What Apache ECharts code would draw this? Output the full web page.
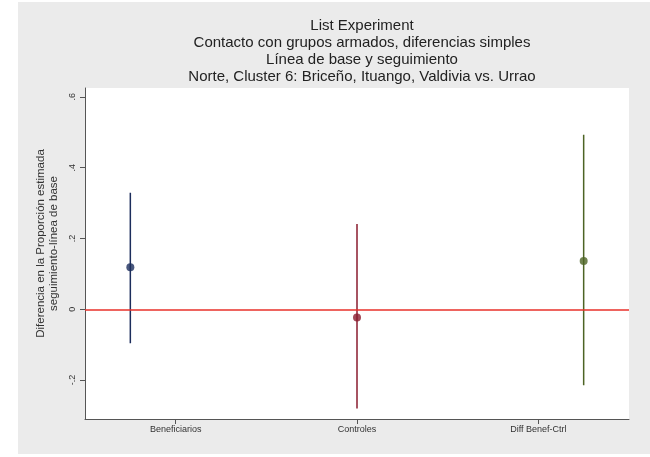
<!DOCTYPE html>
<html>
<head>
<meta charset="utf-8">
<script src="https://cdn.jsdelivr.net/npm/echarts@6/dist/echarts.min.js"></script>
<style>
  html, body { margin: 0; padding: 0; background: #fff; }
  #chart-container { width: 650px; height: 457px; }
</style>
</head>
<body>
<div id="chart-container"></div>
<script>
var dom = document.getElementById("chart-container");
var myChart = echarts.init(dom, null, { renderer: "canvas" });

// groups, their x position on the plot and where Stata put the axis labels
var categories = ["Beneficiarios", "Controles", "Diff Benef-Ctrl"];
var pointX = [1, 2, 3];
var labelX = [1.2, 2, 2.8];

// estimated difference and confidence bounds
var estimates = [0.119, -0.023, 0.136];
var lower = [-0.096, -0.28, -0.215];
var upper = [0.329, 0.241, 0.493];

var yTicks = [-0.2, 0, 0.2, 0.4, 0.6];
var colors = ["#1c2d5c", "#8a1b2e", "#4d6424"];

var series = [];
for (var i = 0; i < categories.length; i++) {
  series.push({
    type: "line",
    name: categories[i],
    data: [[pointX[i], lower[i]], [pointX[i], upper[i]]],
    symbol: "none",
    lineStyle: { color: colors[i], width: 1.5 },
    z: 3,
  });
}
series.push({
  type: "scatter",
  symbolSize: 8,
  data: estimates.map(function (v, i) {
    return { value: [pointX[i], v], itemStyle: { color: colors[i] } };
  }),
  z: 5,
  markLine: {
    silent: true,
    symbol: "none",
    label: { show: false },
    lineStyle: { color: "#e8302a", width: 1.5, type: "solid" },
    data: [{ yAxis: 0 }],
  },
});

var option = {
  backgroundColor: "#fff",
  animation: false,
  graphic: [
    {
      type: "rect",
      shape: { x: 18, y: 2, width: 632, height: 452 },
      style: { fill: "#ebebeb" },
      z: -10,
    },
  ],
  title: {
    text: "List Experiment\nContacto con grupos armados, diferencias simples\nLínea de base y seguimiento\nNorte, Cluster 6: Briceño, Ituango, Valdivia vs. Urrao",
    left: 357,
    top: 12,
    textAlign: "center",
    textStyle: {
      fontFamily: "Liberation Sans",
      fontSize: 15,
      fontWeight: "normal",
      color: "#222",
      lineHeight: 17,
    },
  },
  grid: {
    left: 85,
    right: 21,
    top: 88,
    bottom: 38,
    show: true,
    backgroundColor: "#fff",
    borderWidth: 0,
  },
  xAxis: {
    type: "value",
    min: 0.8,
    max: 3.2,
    splitLine: { show: false },
    axisLine: { onZero: false, lineStyle: { color: "#555", width: 1 } },
    axisTick: { customValues: labelX, length: 5, lineStyle: { color: "#555" } },
    axisLabel: {
      customValues: labelX,
      fontFamily: "Liberation Sans",
      fontSize: 9,
      color: "#333",
      margin: 6,
      formatter: function (v) {
        for (var i = 0; i < labelX.length; i++) {
          if (Math.abs(v - labelX[i]) < 1e-6) return categories[i];
        }
        return "";
      },
    },
  },
  yAxis: {
    type: "value",
    min: -0.31,
    max: 0.625,
    name: "Diferencia en la Proporción estimada\nseguimiento-línea de base",
    nameLocation: "middle",
    nameGap: 18,
    nameTextStyle: {
      fontFamily: "Liberation Sans",
      fontSize: 11.5,
      color: "#333",
      lineHeight: 13,
      padding: [0, 0, 0, 20],
    },
    axisLine: { show: true, onZero: false, lineStyle: { color: "#555", width: 1 } },
    axisTick: { show: true, customValues: yTicks, length: 5, lineStyle: { color: "#555" } },
    splitLine: { show: false },
    axisLabel: {
      customValues: yTicks,
      rotate: 90,
      fontFamily: "Liberation Sans",
      fontSize: 9,
      color: "#333",
      margin: 8,
      formatter: function (v) {
        if (Math.abs(v) < 1e-9) return "0";
        return v.toFixed(1).replace("0.", ".");
      },
    },
  },
  series: series,
};

myChart.setOption(option);
window.addEventListener("resize", myChart.resize);
</script>
</body>
</html>
